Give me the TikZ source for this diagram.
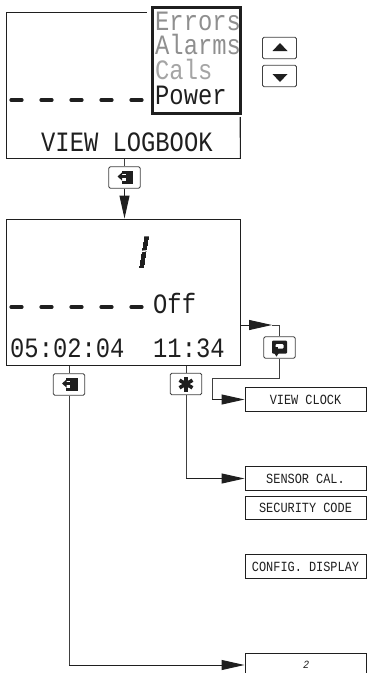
\documentclass[tikz,border=0pt]{standalone}
\usepackage{fontspec}
\usetikzlibrary{arrows.meta}
\setmainfont{Liberation Sans}
\newfontfamily\lcdfont[FakeStretch=0.85]{Liberation Mono}
\newfontfamily\segfont[FakeSlant=0.17]{Liberation Sans}
\newfontfamily\smallseg[FakeSlant=0.2,FakeStretch=0.9]{Liberation Mono}
\definecolor{ink}{gray}{0.12}
\tikzset{
  x=1pt,y=-1pt,
  bigtext/.style={anchor=base west,inner sep=0pt,text height=18pt,text depth=0pt,font=\lcdfont\fontsize{28}{28}\selectfont,text=ink},
  boxed/.style={draw=ink,line width=1pt,fill=white,inner sep=0pt,minimum width=121pt,minimum height=23.5pt,text height=9.2pt,text depth=0pt,font=\lcdfont\fontsize{14}{14}\selectfont,text=ink},
  lcd/.style={draw=ink,line width=1pt,inner sep=0pt,minimum width=234pt,minimum height=146pt},
  keybtn/.style={draw=ink!85,line width=0.9pt,rounded corners=1.5pt,fill=white,inner sep=0pt,minimum width=31.5pt,minimum height=21.5pt},
  conn/.style={draw=ink!85,line width=1pt},
  arr/.style={draw=ink,line width=1pt,-{Triangle[length=23pt,width=10pt]}},
  seg/.style={line width=3.2pt,ink,line cap=round},
  icon/.style={fill=ink,draw=none}
}
\begin{document}
\begin{tikzpicture}
\useasboundingbox (0,0) rectangle (367,673);
% --- first display
\node[lcd] (lcdA) at (123,85) {};
\fill[white] (147,4) rectangle (243,117);
\draw[ink,line width=1pt] (240,117) -- (lcdA.south east);
\node[draw=ink,line width=3pt,fill=white,inner sep=0pt,minimum width=88pt,minimum height=106pt] (menu) at (196,60) {};
\node[bigtext,text=ink!50] (errors) at (155,30) {Errors};
\node[bigtext,text=ink!50] (alarms) at (155,54.5) {Alarms};
\node[bigtext,text=ink!40] (cals) at (155,79) {Cals};
\node[bigtext] (power) at (155,104) {Power};
\node[bigtext] (viewlog) at (41,151) {VIEW LOGBOOK};
\foreach \x in {11,41,71,101,131}
  \draw[seg] (\x,100) -- ++(11,0);
% --- up / down keys
\node[keybtn,minimum width=34pt] (up) at (279.5,48) {};
\node[keybtn,minimum width=34pt] (down) at (279.5,76) {};
\fill[icon] (280,43) -- (287.5,51) -- (272.5,51) -- cycle;
\fill[icon] (280,82) -- (287.5,74) -- (272.5,74) -- cycle;
% --- second display
\node[lcd] (lcdB) at (123,292) {};
\begin{scope}
  \clip (138.8,269) -- (143.2,269) -- (148.7,235) -- (144.3,235) -- cycle;
  \node[anchor=base,inner sep=0pt,font=\segfont\bfseries\fontsize{46}{46}\selectfont,text=ink] (digit) at (141,268) {1};
\end{scope}
\draw[white,line width=1.4pt] (136,252) -- (150,250.5);
\foreach \x in {11,41,71,101,131}
  \draw[seg] (\x,307) -- ++(11,0);
\node[bigtext] (off) at (153,313) {Off};
\node[bigtext] (date) at (10,357) {05:02:04};
\node[bigtext] (time) at (153,357) {11:34};
% --- enter keys
\node[keybtn] (enterA) at (124.5,177.5) {};
\node[keybtn] (enterB) at (69,384.5) {};
\foreach \c/\d in {124.5/177.5,69/384.5}{
\begin{scope}[shift={(\c,\d)}]
  \fill[icon] (-3,-7) rectangle (8.5,6.5);
  \fill[white] (-3,-4) rectangle (1,3.5);
  \fill[icon] (-7,-1) -- (-2.5,-5) -- (-2.5,3) -- cycle;
  \fill[icon] (-3,-2.2) rectangle (2,0.6);
\end{scope}}
\draw[conn] (enterA |- lcdA.south) -- (enterA.north);
\draw[arr] (enterA.south) -- (enterA |- lcdB.north);
% --- star and return keys
\node[keybtn] (star) at (186,384) {};
\foreach \a in {90,30,150}
  \draw[ink,line width=3.6pt] (186,384) ++(\a:7.5) -- ++(\a+180:15);
\node[keybtn] (ret) at (279.5,347.5) {};
\begin{scope}[shift={(279.5,347.5)}]
  \fill[icon,rounded corners=1pt] (-7.5,-7) rectangle (7.5,6);
  \fill[white,rounded corners=1pt] (-4,-3.5) rectangle (4,1);
  \fill[icon] (-3,9) -- (-7,3) -- (1,3) -- cycle;
  \fill[icon] (-4.5,-1) rectangle (-1.5,4);
\end{scope}
% --- right-hand boxes
\node[boxed] (clock) at (305.5,399.5) {VIEW CLOCK};
\node[boxed] (sensor) at (305.5,478.5) {SENSOR CAL.};
\node[boxed] (security) at (305.5,508) {SECURITY CODE};
\node[boxed] (config) at (305.5,566.5) {CONFIG. DISPLAY};
\node[boxed,minimum height=24pt,text height=7pt,font=\smallseg\fontsize{11}{11}\selectfont] (two) at (305.5,665) {2};
% --- connectors
\coordinate (retIn) at (272,325);
\draw[conn] (retIn) -- (ret |- retIn) -- (ret.north);
\draw[arr] (retIn -| lcdB.east) -- (retIn);
\coordinate (loopA) at (279.5,378);
\coordinate (loopB) at (212,378);
\draw[conn] (ret.south) -- (loopA) -- (loopB) -- (loopB |- clock.west);
\draw[arr] (loopB |- clock.west) -- (clock.west);
\draw[conn] (star |- lcdB.south) -- (star.north);
\draw[conn] (star.south) -- (star |- sensor.west);
\draw[arr] (star |- sensor.west) -- (sensor.west);
\draw[conn] (enterB |- lcdB.south) -- (enterB.north);
\draw[conn] (enterB.south) -- (enterB |- two.west);
\draw[arr] (enterB |- two.west) -- (two.west);
\end{tikzpicture}
\end{document}
